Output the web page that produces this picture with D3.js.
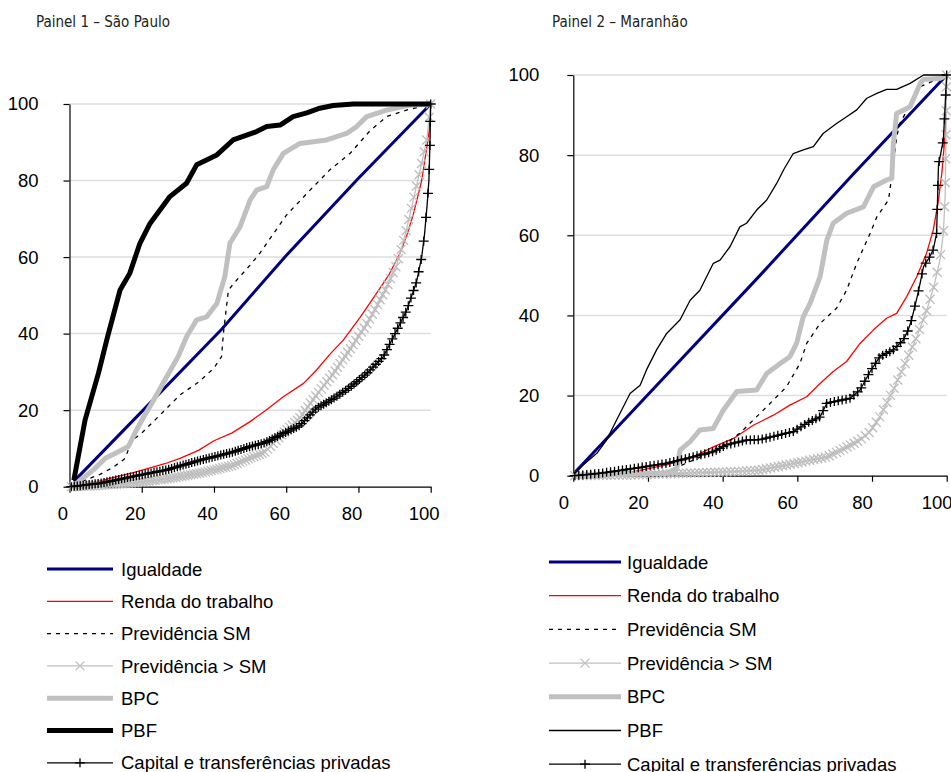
<!DOCTYPE html>
<html>
<head>
<meta charset="utf-8">
<script src="https://cdnjs.cloudflare.com/ajax/libs/d3/7.8.5/d3.min.js"></script>
<style>
body { margin: 0; background: #fff; }
svg text { font-family: "Liberation Sans", Arial, sans-serif; fill: #000; }
</style>
</head>
<body>
<svg id="chart" width="951" height="772"></svg>
<script>
// ---- data (x = % of population, y = % of income) ----
var seriesNames = ["Igualdade", "Renda do trabalho", "Previdência SM", "Previdência > SM", "BPC", "PBF", "Capital e transferências privadas"]
var xTicks = [0, 20, 40, 60, 80, 100]
var yTicks = [0, 20, 40, 60, 80, 100]

// painel 1 - Sao Paulo
var sp_igualdade = [[1.2, 1.4], [21, 20.6], [42, 41], [60, 60.4], [80, 80.6], [100, 100]]
var sp_renda = [[1.2, 0.3], [8.5, 1.5], [12.6, 2.5], [17.7, 3.7], [26.4, 6], [30.6, 7.4], [35.7, 9.5], [40, 12], [44.9, 14], [50, 17], [54.1, 19.8], [59.2, 23.5], [64.8, 27], [68.4, 30.5], [72, 34.5], [75.8, 38.3], [80.4, 44.2], [85, 50.5], [88.5, 55.5], [91.5, 61], [93.5, 66], [95.2, 71.2], [97.5, 80], [98.9, 88.5], [99.6, 93], [100, 100]]
var sp_prevSM = [[1.2, 0.4], [5, 2], [8, 3], [12, 5], [15.4, 7.4], [17.2, 12], [20, 14], [26.4, 20], [30.6, 24], [35.7, 27.3], [40, 31], [42.1, 34], [42.6, 40], [44, 51.4], [46.3, 54], [50, 57.9], [52.7, 61], [54.6, 63.6], [60.1, 71], [66.6, 77.5], [72.1, 82.8], [77.7, 87.1], [83.2, 93], [87.8, 96.7], [93.3, 98.4], [100, 100]]
var sp_prevMaior = [[0.5, 0], [8, 0.3], [17.7, 1], [26.4, 2], [36, 3.5], [45, 5.5], [50, 7.5], [54, 9], [59.2, 14], [63.8, 18], [68.4, 24], [73, 29.5], [77.7, 36], [82.3, 42.5], [85, 47], [88, 52.5], [90.6, 58], [93, 66], [95.2, 75], [97.5, 84.5], [98.9, 90.6], [100, 100]]
var sp_bpc = [[1.2, 0.4], [6.6, 4.4], [10, 7.5], [12.6, 8.7], [16.3, 10.5], [18.1, 14], [20.4, 18], [22.8, 21.8], [26.4, 27.9], [30.1, 34], [32.4, 39.2], [35.2, 43.6], [38, 44.4], [40.8, 47.9], [43, 54.9], [44.4, 63.6], [47.2, 67.9], [50, 74.9], [51.8, 77.5], [54.6, 78.4], [56.4, 82.8], [59.2, 87.1], [63.8, 89.7], [71.2, 90.6], [76.7, 92.3], [79.5, 94.1], [82.3, 96.7], [87.8, 98.4], [94.3, 99.7], [100, 100]]
var sp_pbf = [[1.2, 1.7], [4.3, 17.4], [8, 29.6], [10.5, 39], [14, 51.4], [16.7, 55.8], [19.5, 63.6], [22.3, 68.8], [27.8, 75.8], [32.4, 79.3], [35.2, 84.1], [40.8, 86.7], [45.3, 90.6], [51.8, 92.8], [54.6, 94.1], [58.3, 94.5], [61.9, 96.7], [65.7, 97.7], [69.3, 98.9], [73, 99.6], [78.6, 100], [100, 100]]
var sp_capital = [[0.5, 0], [8.5, 0.9], [17.2, 2.6], [26.9, 4.4], [35.7, 6.8], [45.4, 9.1], [50, 10.5], [54.1, 11.5], [59.2, 13.9], [63.8, 16], [68.4, 20.5], [73, 23], [77.7, 26], [82.3, 29.6], [86.9, 34], [90.6, 40.9], [93.4, 46.2], [96.1, 53.6], [97.5, 60], [98.3, 66], [99, 73.5], [99.5, 80], [99.8, 90], [100, 100]]

// painel 2 - Maranhao
var ma_igualdade = [[0.4, 0.8], [25, 25.2], [50, 50], [75, 75.3], [100, 100]]
var ma_renda = [[0.4, 0], [16.1, 1], [25, 2.7], [32.1, 4.7], [37.5, 7.2], [42.9, 9.3], [48.2, 12.6], [53.6, 15.1], [58, 17.6], [62.5, 19.7], [66.1, 23], [69.6, 26], [73.2, 28.5], [76.8, 33], [80.4, 36.4], [83.9, 39.3], [86.6, 40.5], [89.3, 44.7], [92, 49.7], [94.6, 55.5], [96.4, 61.3], [97.8, 68.8], [98.7, 75.5], [99.6, 85.4], [100, 100]]
var ma_prevSM = [[0.4, 0], [25, 1], [38.4, 6.4], [44.6, 10.6], [51.8, 17.2], [57.1, 22.2], [60.7, 28], [62.5, 33], [66.1, 38], [70.5, 41.8], [73.2, 46.3], [75.9, 53], [79.5, 60.5], [81.3, 64.6], [84.4, 68.8], [84.8, 71.3], [86.6, 84.6], [87.5, 88], [92.9, 97.1], [100, 100]]
var ma_prevMaior = [[0.4, 0], [16.1, 0.2], [29.5, 0.6], [42.9, 1], [50, 1.4], [58.9, 3], [67.9, 4.7], [72, 6.5], [76.8, 8.9], [79.5, 11], [82.1, 14.7], [85.7, 21.4], [89.3, 28.9], [92, 34.7], [94.7, 41.4], [96.5, 47], [98.2, 53.8], [99.1, 60.5], [99.6, 70], [100, 100]]
var ma_bpc = [[0.4, 0], [25, 0.6], [27.7, 1.8], [28.6, 6.4], [31.3, 8.5], [33.9, 11.4], [37.5, 11.8], [40.2, 16.4], [43.8, 21], [49.1, 21.4], [51.8, 25.5], [55.4, 28], [58, 29.7], [59.8, 33], [61.6, 39.7], [63.4, 43], [66.1, 49.7], [67.9, 58.8], [69.6, 63], [73.2, 65.5], [77.7, 67.1], [80.4, 72.1], [83.9, 73.8], [85.3, 74.2], [85.7, 82.9], [86.6, 90.4], [90.2, 92.1], [92.9, 97.9], [93.8, 98.9], [98.2, 99.2], [100, 100]]
var ma_pbf = [[0.4, 0.6], [2.7, 2.7], [6.3, 5.6], [8.9, 8.9], [11.6, 13.9], [15.2, 20.5], [17.9, 22.6], [19.6, 26.4], [22.3, 31.4], [25, 35.5], [28.6, 38.9], [31.3, 43.8], [33.9, 46.3], [37.5, 53], [39.3, 53.8], [42, 57.2], [44.6, 62.1], [46.4, 63], [49.1, 66.3], [51.8, 68.8], [54.5, 73], [56.3, 76.3], [58.9, 80.4], [61.6, 81.3], [64.3, 82.1], [66.9, 85.4], [70.5, 87.9], [73.2, 89.6], [75.9, 91.3], [78.6, 94.2], [81.3, 95.4], [83.9, 96.4], [86.6, 96.4], [90.2, 97.9], [93.8, 100], [100, 100]]
var ma_capital = [[0.4, 0], [7.1, 0.6], [16.1, 1.8], [25, 3.1], [30.4, 4.3], [37.5, 6], [41.1, 7.7], [46.4, 8.9], [50, 9], [58.9, 11], [62.5, 13.1], [66.1, 14.7], [67.9, 18.1], [74.1, 19.3], [76.8, 21.4], [79.5, 26], [82.1, 29.7], [85.7, 31.4], [88.4, 33.9], [89.7, 36.4], [90.6, 38.9], [92.4, 45.9], [93.8, 52.2], [95.5, 54.7], [96.4, 56.4], [97.3, 60.5], [97.8, 77.5], [99.1, 83.8], [100, 100]]

// ---- styles for each series (same order as seriesNames) ----
var styles = {
    "Igualdade": {color: "#000080", width: 3},
    "Renda do trabalho": {color: "#ff0000", width: 1.3},
    "Previdência SM": {color: "#000", width: 1.3, dash: "4,5"},
    "Previdência > SM": {color: "#c0c0c0", width: 1.3, marker: "x"},
    "BPC": {color: "#c0c0c0", width: 5},
    "PBF": {color: "#000", width: 5},
    "Capital e transferências privadas": {color: "#000", width: 1.3, marker: "+"}
}

var svg = d3.select("#chart")

drawPanel({
    title: "Painel 1 – São Paulo", titleX: 36,
    left: 69.5, right: 430.7, top: 104, bottom: 486.7,
    labelShift: -7, yPad: 25, markerStep: 2.5,
    data: [sp_igualdade, sp_renda, sp_prevSM, sp_prevMaior, sp_bpc, sp_pbf, sp_capital],
    pbfWidth: 5,
    legend: {x1: 47, x2: 113, tx: 121, y0: 569, dy: 32.3}
})

drawPanel({
    title: "Painel 2 – Maranhão", titleX: 552,
    left: 573.3, right: 946.7, top: 75, bottom: 475.7,
    labelShift: -10, yPad: 28, markerStep: 3.5,
    data: [ma_igualdade, ma_renda, ma_prevSM, ma_prevMaior, ma_bpc, ma_pbf, ma_capital],
    pbfWidth: 1.3,
    legend: {x1: 549, x2: 621, tx: 627, y0: 562, dy: 33.7}
})

function drawPanel(cfg) {
    var x = d3.scaleLinear().domain([0, 100]).range([cfg.left, cfg.right])
    var y = d3.scaleLinear().domain([0, 100]).range([cfg.bottom, cfg.top])
    var g = svg.append("g")

    // title
    g.append("text")
        .attr("x", cfg.titleX)
        .attr("y", 27)
        .text(cfg.title)
        .style("font-family", "'Liberation Sans Narrow', 'DejaVu Sans Condensed', 'Open Sans', sans-serif")
        .style("font-size", "15px")
        .style("fill", "#222")

    // gridlines
    g.append("g").selectAll("line")
        .data(yTicks.slice(1))
        .enter().append("line")
        .attr("x1", cfg.left).attr("x2", cfg.right)
        .attr("y1", function(d) { return y(d) })
        .attr("y2", function(d) { return y(d) })
        .attr("stroke", "#dddddd")
        .attr("stroke-width", 1.5)

    // axes
    g.append("g")
        .attr("transform", "translate(" + cfg.left + ",0)")
        .call(d3.axisLeft(y).tickValues(yTicks).tickSize(6).tickPadding(cfg.yPad).tickSizeOuter(0))
    var xAxis = g.append("g")
        .attr("transform", "translate(0," + cfg.bottom + ")")
        .call(d3.axisBottom(x).tickValues(xTicks).tickSize(6).tickPadding(14).tickSizeOuter(0))
    xAxis.selectAll("text").attr("dx", cfg.labelShift)
    g.selectAll(".domain").attr("stroke", "#000").attr("stroke-width", 1.2)
    g.selectAll(".tick line").attr("stroke", "#000").attr("stroke-width", 1.2)
    g.selectAll(".tick text")
        .style("font-family", "'Liberation Sans', Arial, sans-serif")
        .style("font-size", "18.5px")
        .style("fill", "#000")

    var line = d3.line()
        .x(function(d) { return x(d[0]) })
        .y(function(d) { return y(d[1]) })

    // series, drawn in legend order so PBF and capital sit on top
    seriesNames.forEach(function(name, i) {
        var st = styles[name]
        var w = name == "PBF" ? cfg.pbfWidth : st.width
        var path = g.append("path")
            .datum(cfg.data[i])
            .attr("d", line)
            .attr("fill", "none")
            .attr("stroke", st.color)
            .attr("stroke-width", w)
            .attr("stroke-linejoin", "round")
        if (st.dash) path.attr("stroke-dasharray", st.dash)
        if (st.marker) {
            var pts = markersAlong(path, cfg.markerStep, 24)
            g.append("g").selectAll("path")
                .data(pts)
                .enter().append("path")
                .attr("transform", function(p) { return "translate(" + p.x + "," + p.y + ")" })
                .attr("d", markerShape(st.marker))
                .attr("fill", "none")
                .attr("stroke", st.marker == "x" ? "#bdbdbd" : "#000")
                .attr("stroke-width", 1.3)
        }
    })

    // legend
    var lg = cfg.legend
    seriesNames.forEach(function(name, i) {
        var st = styles[name]
        var w = name == "PBF" ? cfg.pbfWidth : st.width
        var ly = lg.y0 + lg.dy * i
        var ln = g.append("line")
            .attr("x1", lg.x1).attr("x2", lg.x2)
            .attr("y1", ly).attr("y2", ly)
            .attr("stroke", st.color)
            .attr("stroke-width", w)
        if (st.dash) ln.attr("stroke-dasharray", st.dash)
        if (st.marker) {
            g.append("path")
                .attr("transform", "translate(" + ((lg.x1 + lg.x2) / 2) + "," + ly + ")")
                .attr("d", markerShape(st.marker))
                .attr("fill", "none")
                .attr("stroke", st.marker == "x" ? "#bdbdbd" : "#000")
                .attr("stroke-width", 1.3)
        }
        g.append("text")
            .attr("x", lg.tx)
            .attr("y", ly)
            .attr("dy", "0.36em")
            .text(name)
            .style("font-size", "18.5px")
    })
}

// markers follow the drawn path: a new one each time x moves on by stepX px (or arc by maxArc)
function markersAlong(path, stepX, maxArc) {
    var node = path.node()
    var total = node.getTotalLength()
    var last = node.getPointAtLength(0), lastLen = 0
    var pts = [last]
    for (var l = 0.5; l <= total; l += 0.5) {
        var p = node.getPointAtLength(l)
        if (Math.abs(p.x - last.x) >= stepX || l - lastLen >= maxArc) {
            pts.push(p)
            last = p
            lastLen = l
        }
    }
    pts.push(node.getPointAtLength(total))
    return pts
}

function markerShape(type) {
    if (type == "x") return "M-4.5,-4.5L4.5,4.5M-4.5,4.5L4.5,-4.5"
    return "M-5,0L5,0M0,-4.5L0,4.5"
}
</script>
</body>
</html>
